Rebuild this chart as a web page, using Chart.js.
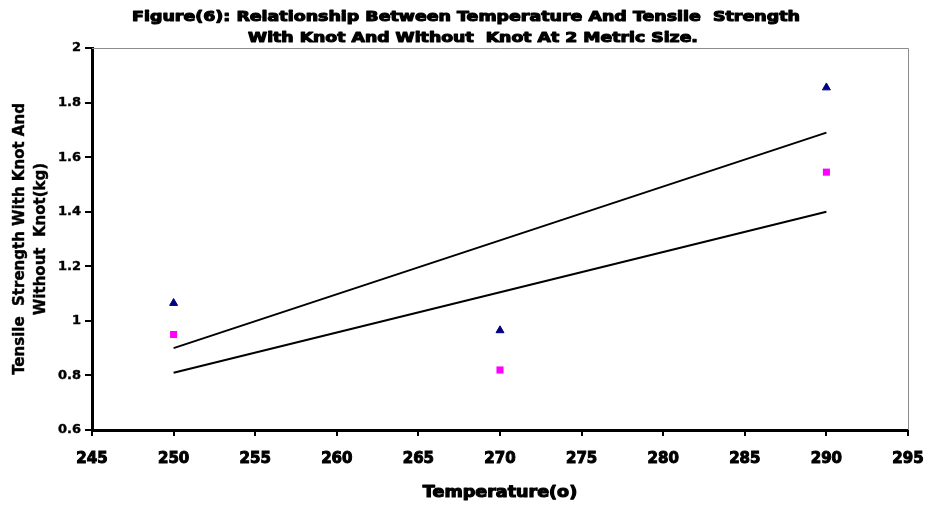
<!DOCTYPE html>
<html>
<head>
<meta charset="utf-8">
<script src="https://cdn.jsdelivr.net/npm/chart.js@4.4.1/dist/chart.umd.min.js"></script>
<style>
  html, body { margin: 0; padding: 0; background: #ffffff; }
  #wrap { width: 925px; height: 507px; }
</style>
</head>
<body>
<div id="wrap"><canvas id="chart" width="925" height="507"></canvas></div>
<script>
// Measured points: temperature (°) vs tensile strength (kg)
const temperatures = [250, 270, 290];
const withKnot = [1.065, 0.965, 1.855];
const withoutKnot = [0.95, 0.82, 1.545];

// Linear trend lines, end points at 250 and 290
const trendTemperatures = [250, 290];
const withKnotTrend = [0.90, 1.69];
const withoutKnotTrend = [0.81, 1.40];

// Axis tick values
const xTicks = [245, 250, 255, 260, 265, 270, 275, 280, 285, 290, 295];
const yTicks = [0.6, 0.8, 1, 1.2, 1.4, 1.6, 1.8, 2];

const titleLines = [
  'Figure(6): Relationship Between Temperature And Tensile  Strength',
  'With Knot And Without  Knot At 2 Metric Size.'
];
const yTitleLines = ['Tensile  Strength With Knot And', 'Without  Knot(kg)'];
const xTitle = 'Temperature(o)';

const pairs = (xs, ys) => xs.map((x, i) => ({ x: x, y: ys[i] }));

const heavy = '"DejaVu Sans", sans-serif';

// Heavy, wide caption text (bold face stretched horizontally and outlined)
function heavyText(ctx, text, x, y, size, stretch) {
  ctx.save();
  ctx.translate(x, y);
  ctx.scale(stretch, 1);
  ctx.font = 'bold ' + size + 'px ' + heavy;
  ctx.textAlign = 'center';
  ctx.textBaseline = 'middle';
  ctx.fillStyle = '#000000';
  ctx.strokeStyle = '#000000';
  ctx.lineWidth = 1.1;
  ctx.lineJoin = 'round';
  ctx.fillText(text, 0, 0);
  ctx.strokeText(text, 0, 0);
  ctx.restore();
}

// Thin grey top/right frame, chart title and axis titles
const framePlugin = {
  id: 'frame',
  beforeDatasetsDraw(chart) {
    const { ctx, chartArea: a } = chart;
    ctx.save();
    ctx.strokeStyle = '#8c8c8c';
    ctx.lineWidth = 1;
    ctx.beginPath();
    ctx.moveTo(a.left, a.top + 0.5);
    ctx.lineTo(a.right + 0.5, a.top + 0.5);
    ctx.lineTo(a.right + 0.5, a.bottom);
    ctx.stroke();
    ctx.restore();
  },
  afterDraw(chart) {
    const { ctx, chartArea: a } = chart;
    heavyText(ctx, titleLines[0], 466, 17, 14, 1.245);
    heavyText(ctx, titleLines[1], 473, 38, 14, 1.235);
    heavyText(ctx, xTitle, (a.left + a.right) / 2, 493, 15, 1.17);

    // Two-line rotated y axis title, centred on the plot height
    ctx.save();
    ctx.fillStyle = '#000000';
    ctx.strokeStyle = '#000000';
    ctx.lineWidth = 0.4;
    ctx.font = 'bold 15px ' + heavy;
    ctx.textAlign = 'center';
    ctx.textBaseline = 'middle';
    ctx.translate(0, (a.top + a.bottom) / 2);
    ctx.rotate(-Math.PI / 2);
    ctx.fillText(yTitleLines[0], 0, 20);
    ctx.strokeText(yTitleLines[0], 0, 20);
    ctx.fillText(yTitleLines[1], 0, 41);
    ctx.strokeText(yTitleLines[1], 0, 41);
    ctx.restore();
  }
};

new Chart(document.getElementById('chart'), {
  type: 'scatter',
  data: {
    datasets: [
      {
        label: 'With knot',
        data: pairs(temperatures, withKnot),
        pointStyle: 'triangle',
        pointRadius: 4.6,
        pointHoverRadius: 4.6,
        backgroundColor: '#000080',
        borderColor: '#000080',
        borderWidth: 1
      },
      {
        label: 'Without knot',
        data: pairs(temperatures, withoutKnot),
        pointStyle: 'rect',
        pointRadius: 5,
        pointHoverRadius: 5,
        backgroundColor: '#ff00ff',
        borderColor: '#ff00ff',
        borderWidth: 0
      },
      {
        label: 'Linear (With knot)',
        data: pairs(trendTemperatures, withKnotTrend),
        showLine: true,
        pointRadius: 0,
        borderColor: '#000000',
        borderWidth: 2
      },
      {
        label: 'Linear (Without knot)',
        data: pairs(trendTemperatures, withoutKnotTrend),
        showLine: true,
        pointRadius: 0,
        borderColor: '#000000',
        borderWidth: 2
      }
    ]
  },
  options: {
    responsive: false,
    animation: false,
    layout: { padding: { left: 0, right: 17, top: 48, bottom: 0 } },
    plugins: {
      legend: { display: false },
      tooltip: { enabled: false },
      title: { display: false }
    },
    scales: {
      x: {
        type: 'linear',
        min: 245,
        max: 295,
        afterBuildTicks(scale) { scale.ticks = xTicks.map(v => ({ value: v })); },
        afterFit(scale) {
          scale.height = 77;
          scale.paddingLeft = 0;
          scale.paddingRight = 0;
        },
        grid: { display: true, drawOnChartArea: false, drawTicks: true, tickLength: 6, color: '#000000', lineWidth: 2 },
        border: { display: true, color: '#000000', width: 3 },
        ticks: {
          color: '#000000',
          padding: 14,
          maxRotation: 0,
          textStrokeColor: '#000000',
          textStrokeWidth: 1,
          font: { family: heavy, size: 15, weight: 'bold' },
          callback: v => String(v)
        },
        title: { display: false }
      },
      y: {
        type: 'linear',
        min: 0.6,
        max: 2,
        afterBuildTicks(scale) { scale.ticks = yTicks.map(v => ({ value: v })); },
        afterFit(scale) {
          scale.width = 92;
          scale.paddingTop = 0;
          scale.paddingBottom = 0;
        },
        grid: { display: true, drawOnChartArea: false, drawTicks: true, tickLength: 7, color: '#000000', lineWidth: 2 },
        border: { display: true, color: '#000000', width: 3 },
        ticks: {
          color: '#000000',
          padding: 4,
          textStrokeColor: '#000000',
          textStrokeWidth: 0.4,
          font: { family: heavy, size: 13, weight: 'bold' },
          callback: v => String(+Number(v).toFixed(1))
        }
      }
    }
  },
  plugins: [framePlugin]
});
</script>
</body>
</html>
